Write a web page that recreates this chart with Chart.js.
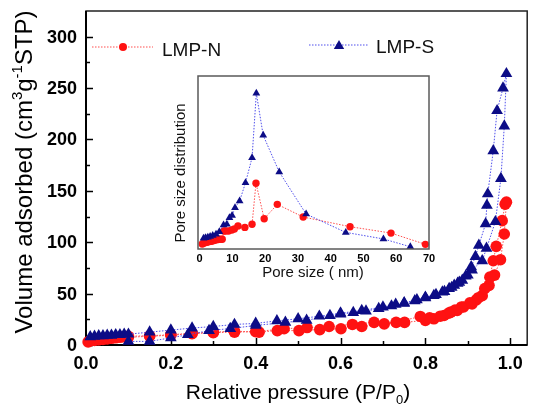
<!DOCTYPE html>
<html>
<head>
<meta charset="utf-8">
<script src="https://cdn.jsdelivr.net/npm/chart.js@4.4.1/dist/chart.umd.min.js"></script>
<style>
html, body { margin: 0; padding: 0; background: #fff; }
#wrap { position: relative; width: 534px; height: 405px; overflow: hidden; }
#mainChart { position: absolute; left: 0; top: 0; }
#insetChart { position: absolute; left: 160px; top: 70px; }
</style>
</head>
<body>
<div id="wrap">
  <canvas id="mainChart" width="534" height="405"></canvas>
  <canvas id="insetChart" width="280" height="215"></canvas>
</div>
<script>
// N2 isotherms: relative pressure P/P0 vs volume adsorbed (cm3/g STP)
var lmpSAdsP = [0.01, 0.02, 0.03, 0.04, 0.05, 0.06, 0.07, 0.08, 0.09, 0.10, 0.15, 0.20, 0.25, 0.30, 0.35, 0.40, 0.45, 0.50, 0.55, 0.60, 0.65, 0.70, 0.73, 0.75, 0.78, 0.80, 0.825, 0.84, 0.856, 0.868, 0.876, 0.887, 0.90, 0.91, 0.934, 0.944, 0.965, 0.978, 0.986, 0.991];
var lmpSAdsV = [8, 8.5, 9, 9, 9.5, 9.5, 10, 10, 10.5, 10.5, 12.5, 14.5, 16.5, 18, 20, 21, 23.5, 25.5, 28, 31, 33.5, 37, 39.5, 41, 44, 46.5, 49, 51.5, 55, 58, 60, 63, 68, 73, 82, 94, 120, 162, 213, 264];
var lmpSDesP = [0.983, 0.969, 0.960, 0.947, 0.945, 0.942, 0.926, 0.918, 0.908, 0.895, 0.88, 0.862, 0.845, 0.82, 0.80, 0.775, 0.75, 0.72, 0.69, 0.66, 0.63, 0.60, 0.575, 0.52, 0.47, 0.40, 0.34, 0.29, 0.24, 0.20, 0.15, 0.10];
var lmpSDesV = [250, 228, 189, 147, 136, 118, 97, 86, 76, 67, 61, 56, 52, 48, 46, 43, 40.5, 38, 35.5, 33, 31.5, 30, 28.7, 24, 22, 19, 16, 14, 10, 7, 3.5, 3.5];

var lmpNAdsP = [0.005, 0.01, 0.02, 0.03, 0.04, 0.05, 0.06, 0.07, 0.08, 0.09, 0.10, 0.15, 0.20, 0.25, 0.30, 0.35, 0.408, 0.451, 0.502, 0.551, 0.601, 0.65, 0.703, 0.751, 0.80, 0.82, 0.844, 0.86, 0.875, 0.89, 0.91, 0.92, 0.934, 0.95, 0.963, 0.977, 0.986, 0.991];
var lmpNAdsV = [3, 4, 4.5, 5, 5.5, 6, 6.5, 7, 7.5, 8, 8.5, 9, 10, 11.5, 12.5, 13.5, 12.5, 14, 14, 15, 15.8, 18, 20.6, 22, 24, 25.5, 28.7, 32, 33.6, 37, 40, 44, 48, 58, 68, 83, 108, 139];
var lmpNDesP = [0.988, 0.981, 0.967, 0.960, 0.952, 0.94, 0.925, 0.905, 0.885, 0.87, 0.855, 0.835, 0.81, 0.788, 0.731, 0.679, 0.628, 0.573, 0.521, 0.467, 0.40, 0.35, 0.30, 0.25, 0.20, 0.15, 0.10];
var lmpNDesV = [137, 121, 96, 82, 66, 55, 46, 41, 37, 34, 31, 28, 26.5, 27.8, 22, 22, 20, 18, 17, 15.8, 13, 12.5, 12, 11, 9.5, 8.5, 7.5];

// pore size distribution (nm vs arbitrary units)
var lmpSPore = [1.2, 1.8, 2.5, 3.2, 4.0, 5.0, 6.0, 7.3, 8.3, 9.1, 9.9, 10.8, 12.2, 14.0, 16.0, 17.3, 19.4, 24.3, 32.5, 44.6, 56.1, 64.3];
var lmpSDist = [6.2, 6.5, 6.8, 7.2, 7.8, 8.5, 10, 13.9, 14.3, 18.1, 19.3, 23.9, 27.7, 38.3, 52.8, 90.0, 65.7, 44.5, 20.2, 9.6, 5.8, 1.3];
var lmpNPore = [0.8, 1.2, 1.8, 2.2, 2.7, 3.3, 3.8, 4.3, 4.8, 5.3, 5.8, 6.4, 6.9, 7.4, 7.9, 8.8, 9.8, 10.6, 11.7, 13.8, 16.0, 17.2, 19.7, 23.7, 31.6, 45.9, 58.4, 68.9];
var lmpNDist = [2.9, 3.3, 3.7, 3.9, 4.2, 4.4, 4.6, 4.9, 5.2, 5.4, 5.6, 5.6, 5.6, 10.4, 10.4, 10.4, 11, 11.6, 13.3, 12.5, 14.3, 38.0, 17.5, 25.8, 18.5, 12.9, 9.2, 2.7];

var xTicks = [0, 0.2, 0.4, 0.6, 0.8, 1.0];
var xTickLabels = ['0.0', '0.2', '0.4', '0.6', '0.8', '1.0'];
var xMinorTicks = [0.1, 0.3, 0.5, 0.7, 0.9];
var yTicks = [0, 50, 100, 150, 200, 250, 300];
var yMinorTicks = [25, 75, 125, 175, 225, 275];
var insetTicks = [0, 10, 20, 30, 40, 50, 60, 70];

var RED = '#ff1212';
var NAVY = '#0c0c86';
var RED_LINE = 'rgba(255,70,70,0.95)';
var BLUE_LINE = 'rgba(70,70,235,0.95)';
var FONT = "'Liberation Sans', Arial, sans-serif";

function pairs(xs, ys) {
    return xs.map(function (x, i) { return { x: x, y: ys[i] }; });
}

// draws a run of text pieces, some raised or lowered, centred on x
function drawRich(ctx, parts, x, y, size) {
    var small = Math.round(size * 0.64);
    var total = 0;
    parts.forEach(function (p) {
        ctx.font = (p.sup || p.sub ? small : size) + 'px ' + FONT;
        p.w = ctx.measureText(p.t).width;
        total += p.w;
    });
    var cx = x - total / 2;
    ctx.textAlign = 'left';
    ctx.textBaseline = 'alphabetic';
    parts.forEach(function (p) {
        ctx.font = (p.sup || p.sub ? small : size) + 'px ' + FONT;
        var dy = p.sup ? -size * 0.4 : (p.sub ? size * 0.25 : 0);
        ctx.fillText(p.t, cx, y + dy);
        cx += p.w;
    });
}

function triangle(ctx, x, y, r) {
    ctx.beginPath();
    ctx.moveTo(x, y - r);
    ctx.lineTo(x + r * Math.sin(2 * Math.PI / 3), y - r * Math.cos(2 * Math.PI / 3));
    ctx.lineTo(x + r * Math.sin(4 * Math.PI / 3), y - r * Math.cos(4 * Math.PI / 3));
    ctx.closePath();
    ctx.fill();
}

var mainAxes = {
    id: 'mainAxes',
    beforeDatasetsDraw: function (chart) {
        var ctx = chart.ctx, a = chart.chartArea;
        var xs = chart.scales.x, ys = chart.scales.y;
        ctx.save();
        ctx.strokeStyle = '#222';
        ctx.lineWidth = 1.5;
        ctx.strokeRect(a.left, a.top, a.right - a.left, a.bottom - a.top);
        ctx.strokeStyle = '#000';
        ctx.lineWidth = 2;
        ctx.beginPath();
        ctx.moveTo(a.left, a.top);
        ctx.lineTo(a.left, a.bottom);
        ctx.lineTo(a.right, a.bottom);
        ctx.stroke();

        ctx.lineWidth = 1.5;
        ctx.beginPath();
        xTicks.forEach(function (v) {
            var px = Math.round(xs.getPixelForValue(v)) + 0.5;
            ctx.moveTo(px, a.bottom); ctx.lineTo(px, a.bottom - 7);
        });
        xMinorTicks.forEach(function (v) {
            var px = Math.round(xs.getPixelForValue(v)) + 0.5;
            ctx.moveTo(px, a.bottom); ctx.lineTo(px, a.bottom - 4);
        });
        yTicks.forEach(function (v) {
            var py = Math.round(ys.getPixelForValue(v)) + 0.5;
            ctx.moveTo(a.left, py); ctx.lineTo(a.left + 7, py);
        });
        yMinorTicks.forEach(function (v) {
            var py = Math.round(ys.getPixelForValue(v)) + 0.5;
            ctx.moveTo(a.left, py); ctx.lineTo(a.left + 4, py);
        });
        ctx.stroke();

        ctx.fillStyle = '#000';
        ctx.font = 'bold 18px ' + FONT;
        ctx.textAlign = 'right';
        ctx.textBaseline = 'middle';
        yTicks.forEach(function (v) {
            ctx.fillText(String(v), a.left - 9, ys.getPixelForValue(v) + 1);
        });
        ctx.textAlign = 'center';
        xTicks.forEach(function (v, i) {
            ctx.fillText(xTickLabels[i], xs.getPixelForValue(v), a.bottom + 19);
        });

        // axis titles
        drawRich(ctx, [
            { t: 'Relative pressure (P/P' }, { t: '0', sub: true }, { t: ')' }
        ], 298, 399, 21);
        ctx.save();
        ctx.translate(32, 172);
        ctx.rotate(-Math.PI / 2);
        drawRich(ctx, [
            { t: 'Volume adsorbed (cm' }, { t: '3', sup: true }, { t: 'g' },
            { t: '-1', sup: true }, { t: 'STP)' }
        ], 0, 0, 24);
        ctx.restore();
        ctx.restore();
    },
    afterDatasetsDraw: function (chart) {
        var ctx = chart.ctx;
        ctx.save();
        ctx.lineWidth = 1.2;
        ctx.setLineDash([1.5, 1.5]);
        ctx.strokeStyle = RED_LINE;
        ctx.beginPath(); ctx.moveTo(92, 47); ctx.lineTo(153, 47); ctx.stroke();
        ctx.strokeStyle = BLUE_LINE;
        ctx.beginPath(); ctx.moveTo(309, 45); ctx.lineTo(368, 45); ctx.stroke();
        ctx.setLineDash([]);
        ctx.fillStyle = RED;
        ctx.beginPath(); ctx.arc(123, 47, 4, 0, Math.PI * 2); ctx.fill();
        ctx.fillStyle = NAVY;
        triangle(ctx, 339, 46, 6);
        ctx.fillStyle = '#111';
        ctx.font = '19px ' + FONT;
        ctx.textAlign = 'left';
        ctx.textBaseline = 'alphabetic';
        ctx.fillText('LMP-N', 162, 56);
        ctx.fillText('LMP-S', 376, 53);
        ctx.restore();
    }
};

new Chart(document.getElementById('mainChart').getContext('2d'), {
    type: 'scatter',
    data: {
        datasets: [{
            label: 'LMP-S',
            data: pairs(lmpSAdsP.concat(lmpSDesP), lmpSAdsV.concat(lmpSDesV)),
            showLine: true,
            borderColor: BLUE_LINE,
            borderWidth: 1,
            borderDash: [1.5, 1.5],
            pointStyle: 'triangle',
            pointRadius: 6.8,
            pointBackgroundColor: NAVY,
            pointBorderColor: NAVY,
            pointBorderWidth: 0,
            clip: false
        }, {
            label: 'LMP-N',
            data: pairs(lmpNAdsP.concat(lmpNDesP), lmpNAdsV.concat(lmpNDesV)),
            showLine: true,
            borderColor: RED_LINE,
            borderWidth: 1,
            borderDash: [1.5, 1.5],
            pointStyle: 'circle',
            pointRadius: 5.8,
            pointBackgroundColor: RED,
            pointBorderColor: RED,
            pointBorderWidth: 0,
            clip: false
        }]
    },
    options: {
        responsive: false,
        animation: false,
        layout: { padding: { left: 86, top: 11, right: 4, bottom: 60 } },
        plugins: { legend: { display: false }, tooltip: { enabled: false } },
        scales: {
            x: { type: 'linear', display: false, min: 0, max: 1.04 },
            y: { type: 'linear', display: false, min: 0, max: 325 }
        }
    },
    plugins: [mainAxes]
});

var insetAxes = {
    id: 'insetAxes',
    beforeDatasetsDraw: function (chart) {
        var ctx = chart.ctx, a = chart.chartArea, xs = chart.scales.x;
        ctx.save();
        ctx.fillStyle = '#fff';
        ctx.fillRect(a.left, a.top, a.right - a.left, a.bottom - a.top);
        ctx.fillStyle = '#000';
        ctx.font = 'bold 11px ' + FONT;
        ctx.textAlign = 'center';
        ctx.textBaseline = 'middle';
        insetTicks.forEach(function (v) {
            ctx.fillText(String(v), xs.getPixelForValue(v), a.bottom + 10);
        });
        ctx.fillStyle = '#111';
        drawRich(ctx, [{ t: 'Pore size ( nm)' }], 153, 207, 15);
        ctx.save();
        ctx.translate(25, 103);
        ctx.rotate(-Math.PI / 2);
        drawRich(ctx, [{ t: 'Pore size distribution' }], 0, 0, 15);
        ctx.restore();
        ctx.restore();
    },
    afterDatasetsDraw: function (chart) {
        var ctx = chart.ctx, a = chart.chartArea;
        ctx.save();
        ctx.strokeStyle = '#5a5a5a';
        ctx.lineWidth = 1.5;
        ctx.strokeRect(a.left, a.top, a.right - a.left, a.bottom - a.top);
        ctx.restore();
    }
};

new Chart(document.getElementById('insetChart').getContext('2d'), {
    type: 'scatter',
    data: {
        datasets: [{
            label: 'LMP-S',
            data: pairs(lmpSPore, lmpSDist),
            showLine: true,
            borderColor: BLUE_LINE,
            borderWidth: 1,
            borderDash: [1.5, 1.5],
            pointStyle: 'triangle',
            pointRadius: 4.5,
            pointBackgroundColor: NAVY,
            pointBorderColor: NAVY,
            pointBorderWidth: 0,
            clip: false
        }, {
            label: 'LMP-N',
            data: pairs(lmpNPore, lmpNDist),
            showLine: true,
            borderColor: RED_LINE,
            borderWidth: 1,
            borderDash: [1.5, 1.5],
            pointStyle: 'circle',
            pointRadius: 3.7,
            pointBackgroundColor: RED,
            pointBorderColor: RED,
            pointBorderWidth: 0,
            clip: false
        }]
    },
    options: {
        responsive: false,
        animation: false,
        layout: { padding: { left: 38, top: 6, right: 11, bottom: 36 } },
        plugins: { legend: { display: false }, tooltip: { enabled: false } },
        scales: {
            x: { type: 'linear', display: false, min: -0.5, max: 70 },
            y: { type: 'linear', display: false, min: 0, max: 100 }
        }
    },
    plugins: [insetAxes]
});
</script>
</body>
</html>
